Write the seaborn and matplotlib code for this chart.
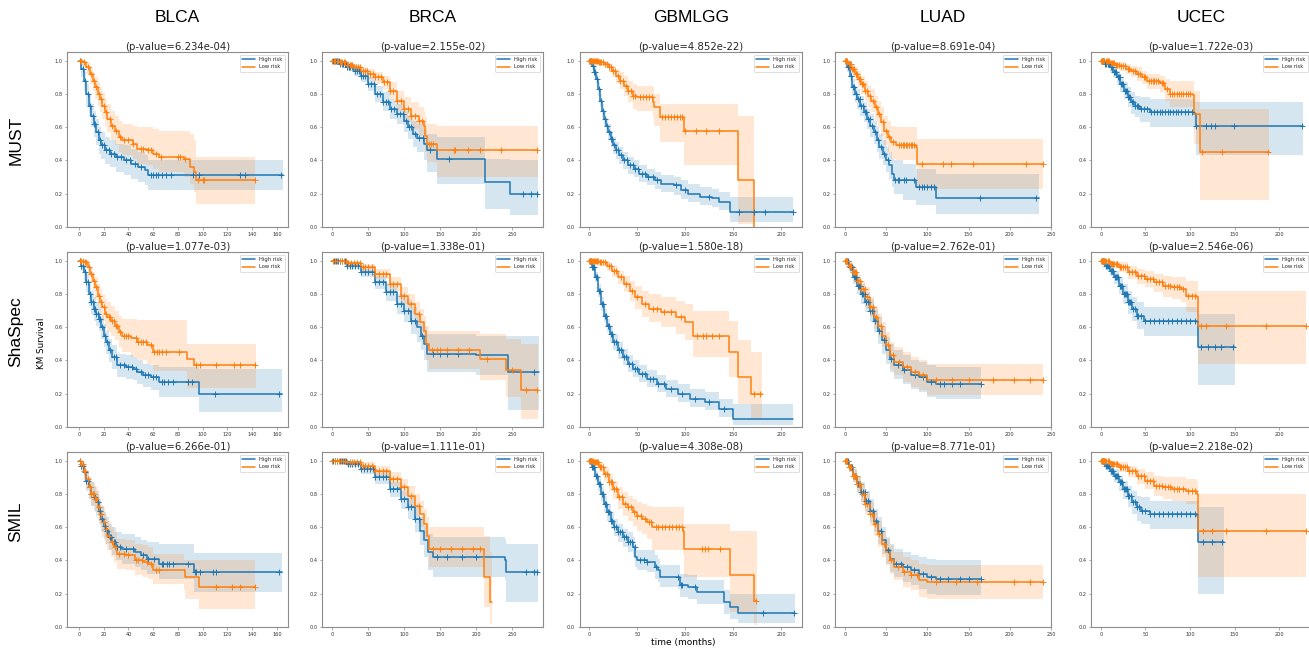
import numpy as np
import pandas as pd
import matplotlib
matplotlib.use("Agg")
import matplotlib.pyplot as plt
import seaborn as sns

sns.set_theme(style="white")
plt.rcParams["font.family"] = ["DejaVu Sans"]

CANCERS = ["BLCA", "BRCA", "GBMLGG", "LUAD", "UCEC"]
METHODS = ["MUST", "ShaSpec", "SMIL"]
PVALUES_MUST = ["6.234e-04", "2.155e-02", "4.852e-22", "8.691e-04", "1.722e-03"]
PVALUES_SHASPEC = ["1.077e-03", "1.338e-01", "1.580e-18", "2.762e-01", "2.546e-06"]
PVALUES_SMIL = ["6.266e-01", "1.111e-01", "4.308e-08", "8.771e-01", "2.218e-02"]
XTICKS = {"BLCA": [0, 20, 40, 60, 80, 100, 120, 140, 160],
          "BRCA": [0, 50, 100, 150, 200, 250],
          "GBMLGG": [0, 50, 100, 150, 200],
          "LUAD": [0, 50, 100, 150, 200, 250],
          "UCEC": [0, 50, 100, 150, 200]}
YTICKS = [0.0, 0.2, 0.4, 0.6, 0.8, 1.0]

# each row: (time, survival, ci_lower, ci_upper); *_CENS: censoring times
# ---------------- MUST ----------------
MUST_BLCA_HIGH = [(0,1.00,1.00,1.00),(2,0.95,0.90,0.98),(4,0.88,0.82,0.93),(6,0.80,0.73,0.86),
    (8,0.73,0.66,0.80),(10,0.67,0.60,0.74),(12,0.62,0.54,0.70),(14,0.57,0.49,0.65),(16,0.52,0.44,0.60),
    (18,0.49,0.41,0.57),(21,0.46,0.38,0.54),(25,0.44,0.36,0.52),(30,0.42,0.33,0.50),(36,0.40,0.31,0.49),
    (42,0.38,0.29,0.47),(48,0.36,0.27,0.45),(53,0.34,0.25,0.43),(56,0.31,0.22,0.40),(165,0.31,0.22,0.40)]
MUST_BLCA_HIGH_CENS = [1,3,5,7,9,11,12,13,15,17,19,20,22,24,26,28,31,34,38,41,45,50,58,60,62,64,67,70,74,92,97,130,134,163]
MUST_BLCA_LOW = [(0,1.00,1.00,1.00),(3,0.99,0.96,1.00),(6,0.96,0.92,0.99),(9,0.92,0.86,0.96),
    (11,0.88,0.82,0.93),(13,0.84,0.77,0.90),(15,0.80,0.73,0.87),(17,0.77,0.69,0.84),(19,0.73,0.65,0.81),
    (21,0.69,0.61,0.77),(23,0.65,0.57,0.74),(26,0.61,0.52,0.70),(29,0.58,0.49,0.67),(32,0.54,0.45,0.64),
    (35,0.52,0.43,0.62),(44,0.50,0.41,0.61),(47,0.47,0.38,0.60),(55,0.46,0.37,0.60),(60,0.44,0.35,0.59),
    (65,0.42,0.33,0.58),(85,0.41,0.30,0.58),(90,0.36,0.26,0.56),(93,0.33,0.21,0.52),(95,0.28,0.14,0.42),
    (142,0.28,0.14,0.42)]
MUST_BLCA_LOW_CENS = [1,2,4,7,10,12,14,16,18,20,22,25,27,30,33,36,40,44,50,52,56,58,62,66,80,82,86,96,100,101,142]

MUST_BRCA_HIGH = [(0,1.00,1.00,1.00),(10,0.98,0.97,0.99),(20,0.96,0.94,0.98),(30,0.935,0.91,0.96),
    (40,0.91,0.87,0.94),(50,0.86,0.82,0.90),(60,0.80,0.75,0.85),(70,0.75,0.70,0.81),(80,0.71,0.65,0.77),
    (90,0.68,0.62,0.74),(100,0.64,0.57,0.70),(105,0.60,0.53,0.67),(112,0.56,0.48,0.64),(118,0.535,0.45,0.62),
    (128,0.50,0.40,0.59),(131,0.46,0.33,0.56),(145,0.41,0.26,0.54),(213,0.27,0.11,0.41),(247,0.20,0.07,0.40),
    (286,0.20,0.07,0.40)]
MUST_BRCA_HIGH_CENS = [1,3,5,7,9,11,13,15,17,19,21,23,25,28,31,34,37,40,43,46,50,54,58,62,66,70,74,78,82,86,
    90,94,98,102,106,110,115,120,126,136,162,265,277,284]
MUST_BRCA_LOW = [(0,1.00,1.00,1.00),(10,0.99,0.98,1.00),(20,0.975,0.96,0.99),(30,0.96,0.94,0.98),
    (40,0.94,0.92,0.96),(50,0.92,0.89,0.95),(60,0.90,0.86,0.93),(70,0.87,0.83,0.91),(80,0.82,0.77,0.87),
    (90,0.76,0.70,0.82),(100,0.71,0.64,0.78),(110,0.67,0.59,0.75),(120,0.64,0.55,0.72),(127,0.61,0.52,0.70),
    (129,0.55,0.45,0.66),(131,0.50,0.39,0.62),(146,0.46,0.30,0.61),(286,0.46,0.30,0.61)]
MUST_BRCA_LOW_CENS = [0,2,4,6,8,10,12,14,16,18,20,22,24,26,28,30,33,36,39,42,45,48,52,56,60,64,68,72,76,80,
    85,90,95,100,105,110,115,120,125,134,137,140,169,171,188,206,235,284]

MUST_GBMLGG_HIGH = [(0,1.00,1.00,1.00),(3,0.97,0.95,0.99),(5,0.93,0.90,0.96),(7,0.89,0.86,0.92),
    (9,0.83,0.79,0.87),(11,0.76,0.72,0.80),(13,0.70,0.66,0.74),(15,0.65,0.61,0.69),(17,0.61,0.57,0.65),
    (19,0.57,0.53,0.62),(22,0.53,0.48,0.58),(25,0.49,0.44,0.54),(28,0.46,0.41,0.51),(31,0.43,0.38,0.48),
    (35,0.40,0.35,0.45),(40,0.37,0.32,0.42),(46,0.35,0.30,0.40),(52,0.32,0.27,0.37),(60,0.30,0.25,0.35),
    (68,0.28,0.23,0.33),(75,0.26,0.21,0.31),(88,0.25,0.19,0.30),(95,0.22,0.17,0.28),(103,0.20,0.15,0.26),
    (115,0.18,0.13,0.24),(128,0.175,0.12,0.23),(135,0.15,0.10,0.21),(146,0.09,0.03,0.18),(212,0.09,0.03,0.18)]
MUST_GBMLGG_HIGH_CENS = [1,2,4,5,6,8,10,12,14,16,18,20,22,24,26,28,30,33,36,39,42,45,48,51,55,58,61,66,70,
    90,100,125,156,172,183,212]
MUST_GBMLGG_LOW = [(0,1.00,1.00,1.00),(10,0.99,0.97,1.00),(15,0.98,0.96,0.99),(20,0.96,0.93,0.98),
    (24,0.94,0.90,0.97),(28,0.91,0.86,0.95),(32,0.88,0.83,0.93),(36,0.85,0.79,0.91),(40,0.82,0.75,0.88),
    (45,0.79,0.71,0.86),(50,0.78,0.70,0.85),(66,0.75,0.66,0.84),(67,0.72,0.61,0.80),(74,0.66,0.51,0.74),
    (98,0.66,0.51,0.74),(99,0.575,0.37,0.74),(154,0.575,0.37,0.74),(155,0.285,0.02,0.67),(170,0.285,0.02,0.67),
    (171,0.0,0.0,0.0)]
MUST_GBMLGG_LOW_CENS = [0,1,2,3,4,5,6,7,8,9,10,11,12,14,16,18,20,22,25,27,30,32,35,38,40,43,45,48,53,56,59,
    62,65,76,79,82,85,88,91,94,97,100,111,121,135]

MUST_LUAD_HIGH = [(0,1.00,1.00,1.00),(3,0.96,0.93,0.98),(6,0.91,0.87,0.95),(9,0.84,0.79,0.89),
    (12,0.80,0.75,0.85),(15,0.77,0.71,0.83),(19,0.73,0.67,0.79),(23,0.69,0.63,0.75),(27,0.65,0.59,0.71),
    (31,0.61,0.54,0.68),(35,0.57,0.50,0.64),(39,0.52,0.45,0.60),(42,0.48,0.41,0.56),(46,0.44,0.37,0.52),
    (50,0.40,0.33,0.48),(54,0.37,0.29,0.45),(57,0.32,0.24,0.41),(60,0.285,0.20,0.40),(70,0.285,0.16,0.38),
    (86,0.24,0.13,0.35),(110,0.175,0.076,0.32),(235,0.175,0.076,0.32)]
MUST_LUAD_HIGH_CENS = [1,2,4,5,7,8,10,11,13,14,16,18,20,22,24,26,28,30,33,36,40,44,48,52,61,64,66,72,74,84,
    90,93,96,100,104,108,164,232]
MUST_LUAD_LOW = [(0,1.00,1.00,1.00),(4,0.98,0.96,1.00),(8,0.95,0.92,0.98),(12,0.92,0.88,0.96),
    (16,0.89,0.84,0.94),(20,0.86,0.80,0.91),(24,0.82,0.76,0.88),(28,0.79,0.72,0.85),(32,0.76,0.69,0.83),
    (36,0.72,0.64,0.79),(40,0.68,0.60,0.76),(44,0.63,0.55,0.72),(48,0.58,0.49,0.67),(52,0.54,0.45,0.64),
    (56,0.51,0.41,0.61),(62,0.49,0.40,0.60),(86,0.48,0.36,0.60),(87,0.38,0.23,0.53),(240,0.38,0.23,0.53)]
MUST_LUAD_LOW_CENS = [0,1,2,3,5,6,7,9,10,11,13,14,15,17,18,19,21,22,25,27,30,34,38,42,46,50,54,58,66,68,70,
    72,74,76,78,80,82,84,93,119,129,155,220,240]

MUST_UCEC_HIGH = [(0,1.00,1.00,1.00),(5,0.98,0.96,0.99),(10,0.96,0.93,0.98),(14,0.93,0.90,0.96),
    (18,0.90,0.86,0.94),(22,0.86,0.81,0.90),(26,0.82,0.77,0.87),(30,0.78,0.72,0.84),(34,0.75,0.68,0.81),
    (38,0.73,0.66,0.79),(44,0.71,0.63,0.78),(55,0.69,0.60,0.77),(104,0.68,0.59,0.76),(107,0.61,0.43,0.75),
    (227,0.61,0.43,0.75)]
MUST_UCEC_HIGH_CENS = [1,2,3,4,5,6,8,9,11,12,13,15,16,17,19,20,21,23,24,25,27,28,29,31,32,33,35,36,38,40,
    42,45,48,52,56,60,63,66,69,72,75,78,81,84,87,90,94,98,102,107,118,124,128,149,225]
MUST_UCEC_LOW = [(0,1.00,1.00,1.00),(5,0.995,0.98,1.00),(10,0.985,0.97,1.00),(16,0.975,0.95,0.99),
    (22,0.965,0.94,0.99),(28,0.95,0.92,0.98),(34,0.935,0.90,0.97),(40,0.92,0.88,0.96),(46,0.90,0.86,0.94),
    (52,0.875,0.83,0.92),(66,0.865,0.81,0.91),(72,0.83,0.76,0.89),(77,0.80,0.72,0.88),(103,0.795,0.71,0.88),
    (104,0.68,0.50,0.82),(110,0.68,0.50,0.82),(111,0.45,0.16,0.71),(188,0.45,0.16,0.71)]
MUST_UCEC_LOW_CENS = [0,1,2,3,4,6,7,8,9,11,12,14,15,17,18,20,23,25,27,30,32,36,38,42,44,48,50,54,56,58,60,
    62,64,68,70,74,78,80,82,85,88,90,92,95,98,100,113,136,187]

# ---------------- ShaSpec ----------------
SHASPEC_BLCA_HIGH = [(0,1.00,1.00,1.00),(2,0.97,0.94,0.99),(4,0.93,0.88,0.97),(6,0.87,0.81,0.92),
    (8,0.80,0.73,0.86),(10,0.75,0.68,0.82),(12,0.71,0.64,0.78),(14,0.68,0.61,0.75),(16,0.65,0.58,0.72),
    (18,0.60,0.53,0.67),(20,0.55,0.48,0.62),(22,0.51,0.44,0.58),(24,0.46,0.39,0.53),(27,0.42,0.35,0.49),
    (31,0.37,0.30,0.44),(38,0.36,0.29,0.43),(44,0.35,0.28,0.42),(47,0.33,0.26,0.40),(52,0.31,0.24,0.38),
    (58,0.30,0.22,0.37),(65,0.27,0.18,0.36),(96,0.27,0.18,0.36),(97,0.20,0.09,0.35),(164,0.20,0.09,0.35)]
SHASPEC_BLCA_HIGH_CENS = [1,2,3,5,6,7,9,10,11,12,13,14,15,16,17,19,21,23,25,28,30,33,36,40,43,46,50,53,56,
    60,62,67,69,72,76,88,91,110,162]
SHASPEC_BLCA_LOW = [(0,1.00,1.00,1.00),(4,0.99,0.97,1.00),(7,0.96,0.92,0.99),(9,0.92,0.87,0.96),
    (11,0.88,0.82,0.93),(13,0.84,0.77,0.90),(15,0.79,0.72,0.86),(17,0.75,0.68,0.83),(19,0.72,0.64,0.80),
    (21,0.68,0.60,0.77),(23,0.66,0.57,0.75),(26,0.64,0.55,0.73),(29,0.61,0.52,0.70),(32,0.57,0.48,0.67),
    (35,0.545,0.45,0.65),(42,0.535,0.42,0.65),(47,0.51,0.40,0.645),(55,0.49,0.38,0.645),(60,0.45,0.334,0.645),
    (86,0.45,0.334,0.645),(87,0.41,0.234,0.50),(93,0.37,0.234,0.50),(143,0.37,0.234,0.50)]
SHASPEC_BLCA_LOW_CENS = [1,2,3,5,6,8,10,12,14,16,18,20,22,24,25,27,28,30,31,33,36,38,40,46,48,50,52,54,58,
    61,63,65,67,70,81,95,98,111,125,130,142]

SHASPEC_BRCA_HIGH = [(0,1.00,1.00,1.00),(20,0.97,0.95,0.99),(40,0.93,0.90,0.96),(60,0.87,0.83,0.91),
    (75,0.81,0.76,0.86),(90,0.74,0.68,0.80),(100,0.70,0.63,0.77),(110,0.64,0.56,0.72),(118,0.60,0.51,0.68),
    (123,0.55,0.46,0.64),(127,0.50,0.40,0.60),(132,0.44,0.33,0.56),(200,0.43,0.31,0.55),(244,0.33,0.10,0.55),
    (288,0.33,0.10,0.55)]
SHASPEC_BRCA_HIGH_CENS = [2,5,8,11,14,17,20,24,28,32,36,40,45,50,55,60,65,70,75,80,85,90,95,100,105,110,
    115,125,140,150,160,175,280]
SHASPEC_BRCA_LOW = [(0,1.00,1.00,1.00),(20,0.985,0.97,1.00),(40,0.96,0.94,0.98),(60,0.92,0.89,0.95),
    (80,0.86,0.82,0.90),(95,0.79,0.74,0.84),(105,0.74,0.68,0.80),(115,0.68,0.61,0.75),(122,0.63,0.55,0.71),
    (127,0.58,0.49,0.67),(130,0.50,0.40,0.61),(134,0.46,0.35,0.58),(205,0.46,0.35,0.58),(206,0.41,0.28,0.56),
    (240,0.41,0.28,0.56),(241,0.34,0.18,0.53),(262,0.34,0.18,0.53),(263,0.22,0.05,0.50),(286,0.22,0.05,0.50)]
SHASPEC_BRCA_LOW_CENS = [1,4,7,10,13,16,19,22,26,30,34,38,42,46,50,55,60,65,70,75,80,85,90,95,100,110,
    120,138,145,150,160,175,190,215,250,270,284]

SHASPEC_GBMLGG_HIGH = [(0,1.00,1.00,1.00),(3,0.96,0.94,0.98),(6,0.90,0.87,0.93),(9,0.82,0.78,0.86),
    (12,0.74,0.70,0.78),(15,0.67,0.63,0.71),(18,0.61,0.57,0.65),(21,0.56,0.51,0.61),(25,0.51,0.46,0.56),
    (30,0.46,0.41,0.51),(35,0.42,0.37,0.47),(40,0.38,0.33,0.43),(45,0.35,0.30,0.40),(52,0.32,0.27,0.37),
    (60,0.29,0.24,0.34),(70,0.26,0.21,0.31),(80,0.23,0.18,0.28),(92,0.20,0.15,0.26),(105,0.17,0.12,0.23),
    (120,0.15,0.10,0.21),(135,0.11,0.06,0.17),(150,0.05,0.01,0.14),(212,0.05,0.01,0.14)]
SHASPEC_GBMLGG_HIGH_CENS = [1,2,3,4,5,7,8,10,11,13,14,16,17,19,20,22,24,26,28,31,33,36,38,41,44,47,50,
    55,58,63,66,72,78,85,96,110,125,140]
SHASPEC_GBMLGG_LOW = [(0,1.00,1.00,1.00),(10,0.99,0.97,1.00),(18,0.97,0.94,0.99),(24,0.94,0.90,0.97),
    (30,0.90,0.86,0.94),(36,0.86,0.81,0.91),(42,0.82,0.76,0.88),(48,0.78,0.71,0.85),(55,0.74,0.66,0.82),
    (62,0.71,0.63,0.80),(75,0.69,0.60,0.78),(90,0.66,0.56,0.76),(100,0.63,0.52,0.74),(108,0.55,0.42,0.70),
    (140,0.55,0.42,0.70),(145,0.45,0.30,0.64),(155,0.30,0.14,0.52),(165,0.30,0.14,0.52),(168,0.20,0.05,0.45),
    (180,0.20,0.05,0.45)]
SHASPEC_GBMLGG_LOW_CENS = [0,1,2,3,4,5,6,7,8,9,11,12,14,16,20,22,26,28,33,38,44,50,58,66,70,78,85,95,
    112,118,122,128,135,172,178]

SHASPEC_LUAD_HIGH = [(0,1.00,1.00,1.00),(5,0.96,0.93,0.98),(10,0.90,0.86,0.94),(15,0.85,0.80,0.90),
    (20,0.80,0.74,0.86),(25,0.75,0.69,0.81),(30,0.70,0.63,0.77),(35,0.64,0.57,0.71),(40,0.58,0.50,0.66),
    (45,0.52,0.44,0.60),(50,0.46,0.38,0.54),(55,0.41,0.33,0.50),(60,0.37,0.29,0.46),(70,0.34,0.26,0.43),
    (80,0.31,0.23,0.40),(90,0.30,0.21,0.39),(100,0.27,0.18,0.37),(110,0.26,0.17,0.36),(165,0.26,0.17,0.36)]
SHASPEC_LUAD_HIGH_CENS = [1,2,3,4,6,7,8,9,11,12,13,14,16,17,18,19,21,22,24,26,28,30,33,36,42,48,56,64,
    72,85,95,105,115,120,130,140,165]
SHASPEC_LUAD_LOW = [(0,1.00,1.00,1.00),(5,0.97,0.95,0.99),(10,0.93,0.90,0.96),(15,0.88,0.84,0.92),
    (20,0.83,0.78,0.88),(25,0.78,0.72,0.84),(30,0.72,0.66,0.78),(35,0.66,0.59,0.73),(40,0.61,0.54,0.68),
    (45,0.55,0.48,0.63),(50,0.49,0.41,0.57),(55,0.43,0.35,0.51),(60,0.39,0.31,0.48),(70,0.36,0.27,0.45),
    (80,0.33,0.24,0.42),(90,0.31,0.22,0.40),(100,0.28,0.19,0.38),(240,0.28,0.19,0.38)]
SHASPEC_LUAD_LOW_CENS = [0,1,2,3,5,6,7,8,10,11,12,13,15,16,18,20,22,24,27,30,34,38,44,52,58,66,75,85,
    95,110,130,150,180,205,225,240]

SHASPEC_UCEC_HIGH = [(0,1.00,1.00,1.00),(5,0.97,0.95,0.99),(10,0.94,0.91,0.97),(15,0.90,0.86,0.94),
    (20,0.85,0.80,0.90),(25,0.80,0.74,0.86),(30,0.75,0.68,0.82),(35,0.71,0.64,0.78),(40,0.67,0.59,0.75),
    (48,0.64,0.55,0.72),(108,0.63,0.54,0.72),(109,0.48,0.25,0.68),(150,0.48,0.25,0.68)]
SHASPEC_UCEC_HIGH_CENS = [1,2,3,4,6,7,8,9,11,12,13,14,16,17,18,19,21,22,23,24,26,27,28,29,31,32,33,34,
    36,38,40,42,45,50,55,60,65,70,75,80,85,90,95,100,105,112,120,128,135,148]
SHASPEC_UCEC_LOW = [(0,1.00,1.00,1.00),(10,0.98,0.96,1.00),(20,0.96,0.93,0.99),(30,0.93,0.89,0.97),
    (40,0.91,0.86,0.95),(50,0.89,0.84,0.94),(60,0.87,0.81,0.92),(70,0.85,0.78,0.91),(80,0.84,0.77,0.90),
    (90,0.83,0.75,0.90),(95,0.79,0.69,0.88),(108,0.78,0.68,0.88),(109,0.61,0.38,0.82),(230,0.61,0.38,0.82)]
SHASPEC_UCEC_LOW_CENS = [0,1,2,3,4,5,6,8,9,11,12,14,15,17,18,21,23,25,27,29,32,35,38,42,45,48,52,55,58,
    62,65,68,72,75,78,82,85,88,92,98,102,105,112,118,140,185,230]

# ---------------- SMIL ----------------
SMIL_BLCA_HIGH = [(0,1.00,1.00,1.00),(2,0.97,0.94,0.99),(4,0.93,0.88,0.97),(6,0.88,0.82,0.93),
    (8,0.84,0.77,0.90),(10,0.80,0.73,0.87),(12,0.78,0.70,0.85),(14,0.75,0.67,0.82),(16,0.70,0.62,0.77),
    (18,0.65,0.57,0.73),(20,0.61,0.53,0.69),(22,0.58,0.50,0.66),(24,0.54,0.46,0.62),(27,0.51,0.43,0.60),
    (30,0.48,0.40,0.57),(35,0.47,0.38,0.56),(45,0.45,0.36,0.54),(50,0.43,0.34,0.52),(55,0.41,0.32,0.51),
    (65,0.38,0.29,0.50),(92,0.38,0.29,0.50),(93,0.33,0.21,0.445),(164,0.33,0.21,0.445)]
SMIL_BLCA_HIGH_CENS = [1,2,3,5,6,7,9,10,11,12,13,15,17,19,21,23,25,26,28,29,31,33,38,44,52,56,61,67,68,
    71,73,76,88,94,95,98,108,111,162]
SMIL_BLCA_LOW = [(0,1.00,1.00,1.00),(2,0.98,0.95,1.00),(4,0.94,0.89,0.98),(6,0.89,0.83,0.94),
    (8,0.84,0.77,0.90),(10,0.80,0.73,0.87),(13,0.77,0.69,0.84),(15,0.72,0.64,0.80),(17,0.68,0.60,0.76),
    (19,0.63,0.54,0.72),(21,0.59,0.50,0.68),(23,0.55,0.46,0.64),(26,0.51,0.42,0.60),(28,0.48,0.39,0.57),
    (31,0.44,0.35,0.53),(38,0.43,0.34,0.52),(45,0.40,0.31,0.50),(52,0.39,0.30,0.49),(56,0.38,0.29,0.48),
    (60,0.345,0.26,0.44),(85,0.345,0.22,0.40),(86,0.30,0.17,0.40),(96,0.30,0.17,0.40),(97,0.24,0.11,0.40),
    (142,0.24,0.11,0.40)]
SMIL_BLCA_LOW_CENS = [1,2,3,4,5,7,9,10,11,12,13,14,16,18,20,22,24,27,29,32,36,40,46,48,51,55,58,62,65,
    111,124,130,142]

SMIL_BRCA_HIGH = [(0,1.00,1.00,1.00),(20,0.98,0.96,0.99),(40,0.95,0.92,0.97),(60,0.90,0.86,0.93),
    (80,0.83,0.78,0.87),(95,0.77,0.71,0.82),(105,0.72,0.65,0.78),(115,0.65,0.57,0.72),(122,0.58,0.49,0.66),
    (128,0.52,0.42,0.61),(133,0.45,0.34,0.56),(140,0.42,0.30,0.54),(240,0.40,0.28,0.53),(241,0.33,0.15,0.50),
    (286,0.33,0.15,0.50)]
SMIL_BRCA_HIGH_CENS = [1,4,7,10,13,16,19,22,25,28,32,36,40,44,48,52,56,60,65,70,75,80,85,90,95,100,105,
    110,115,120,145,160,180,200,270,280,285]
SMIL_BRCA_LOW = [(0,1.00,1.00,1.00),(20,0.99,0.98,1.00),(40,0.97,0.95,0.99),(60,0.94,0.91,0.97),
    (80,0.89,0.85,0.93),(95,0.84,0.79,0.89),(105,0.79,0.73,0.85),(115,0.73,0.66,0.80),(122,0.68,0.60,0.76),
    (127,0.62,0.53,0.71),(132,0.55,0.45,0.66),(135,0.47,0.36,0.60),(210,0.47,0.36,0.60),(211,0.30,0.12,0.55),
    (218,0.30,0.12,0.55),(219,0.15,0.02,0.45),(222,0.15,0.02,0.45)]
SMIL_BRCA_LOW_CENS = [0,3,6,9,12,15,18,21,24,27,30,34,38,42,46,50,55,60,65,70,75,80,85,90,95,100,110,
    120,140,150,165,180,195,205]

SMIL_GBMLGG_HIGH = [(0,1.00,1.00,1.00),(3,0.96,0.94,0.98),(6,0.91,0.88,0.94),(9,0.86,0.82,0.90),
    (12,0.80,0.76,0.84),(15,0.74,0.69,0.79),(18,0.69,0.64,0.74),(22,0.64,0.59,0.69),(26,0.60,0.55,0.65),
    (30,0.57,0.51,0.62),(35,0.54,0.48,0.59),(40,0.51,0.45,0.57),(45,0.48,0.42,0.54),(48,0.42,0.36,0.48),
    (50,0.40,0.34,0.46),(60,0.39,0.33,0.46),(68,0.36,0.29,0.43),(72,0.34,0.27,0.41),(74,0.30,0.24,0.37),
    (92,0.30,0.23,0.37),(94,0.25,0.18,0.32),(103,0.24,0.17,0.31),(112,0.21,0.14,0.28),(135,0.21,0.14,0.28),
    (140,0.15,0.08,0.22),(146,0.12,0.05,0.20),(155,0.085,0.024,0.20),(214,0.085,0.024,0.20)]
SMIL_GBMLGG_HIGH_CENS = [1,2,3,4,5,7,8,10,11,13,14,16,17,19,20,22,24,26,28,30,32,34,36,38,40,42,44,47,
    53,57,60,69,92,95,97,110,181,213]
SMIL_GBMLGG_LOW = [(0,1.00,1.00,1.00),(5,0.99,0.97,1.00),(10,0.96,0.93,0.99),(15,0.92,0.88,0.96),
    (20,0.87,0.82,0.92),(25,0.83,0.77,0.88),(30,0.78,0.71,0.84),(35,0.74,0.67,0.81),(40,0.72,0.64,0.79),
    (45,0.69,0.61,0.77),(50,0.67,0.58,0.75),(55,0.65,0.56,0.74),(60,0.63,0.53,0.73),(65,0.60,0.46,0.72),
    (98,0.58,0.44,0.72),(99,0.47,0.30,0.62),(145,0.47,0.30,0.62),(146,0.31,0.09,0.58),(170,0.31,0.09,0.58),
    (171,0.155,0.01,0.58),(175,0.155,0.01,0.58)]
SMIL_GBMLGG_LOW_CENS = [0,1,2,3,4,5,6,7,8,9,11,12,14,16,18,20,22,24,26,28,31,34,37,40,43,46,50,54,58,62,
    64,69,72,76,79,83,86,90,93,97,117,120,124,136,174]

SMIL_LUAD_HIGH = [(0,1.00,1.00,1.00),(5,0.96,0.93,0.98),(10,0.91,0.87,0.95),(15,0.86,0.81,0.91),
    (20,0.81,0.75,0.87),(25,0.76,0.70,0.82),(30,0.70,0.63,0.77),(35,0.64,0.57,0.71),(40,0.58,0.50,0.66),
    (45,0.52,0.44,0.60),(50,0.46,0.38,0.54),(55,0.41,0.33,0.50),(60,0.38,0.30,0.47),(70,0.36,0.27,0.45),
    (80,0.34,0.25,0.43),(90,0.32,0.23,0.42),(100,0.30,0.20,0.41),(110,0.29,0.19,0.40),(165,0.29,0.19,0.40)]
SMIL_LUAD_HIGH_CENS = [1,2,3,4,6,7,8,9,11,12,13,15,16,17,19,20,22,24,26,28,31,34,38,44,52,62,68,76,84,
    95,105,115,125,140,150,165]
SMIL_LUAD_LOW = [(0,1.00,1.00,1.00),(5,0.96,0.93,0.98),(10,0.91,0.87,0.95),(15,0.86,0.81,0.91),
    (20,0.80,0.74,0.86),(25,0.74,0.68,0.80),(30,0.68,0.61,0.75),(35,0.62,0.55,0.69),(40,0.56,0.48,0.64),
    (45,0.50,0.42,0.58),(50,0.45,0.37,0.53),(55,0.40,0.32,0.49),(60,0.36,0.28,0.45),(70,0.33,0.24,0.42),
    (80,0.31,0.22,0.40),(90,0.28,0.18,0.38),(100,0.27,0.17,0.37),(240,0.27,0.17,0.37)]
SMIL_LUAD_LOW_CENS = [0,1,2,3,5,6,7,8,10,11,12,14,15,17,18,21,23,25,27,30,33,36,42,48,56,64,72,80,88,
    110,135,160,205,225,240]

SMIL_UCEC_HIGH = [(0,1.00,1.00,1.00),(5,0.97,0.95,0.99),(10,0.94,0.91,0.97),(15,0.91,0.87,0.95),
    (20,0.87,0.82,0.91),(25,0.83,0.77,0.88),(30,0.79,0.72,0.85),(35,0.75,0.68,0.82),(40,0.72,0.64,0.79),
    (45,0.70,0.62,0.78),(55,0.68,0.59,0.76),(108,0.67,0.58,0.76),(109,0.51,0.20,0.72),(138,0.51,0.20,0.72)]
SMIL_UCEC_HIGH_CENS = [1,2,3,4,6,7,8,9,11,12,13,14,16,17,18,19,21,22,23,24,26,27,28,29,31,32,34,36,38,
    40,43,46,50,55,60,65,70,75,80,85,90,95,100,105,115,125,136]
SMIL_UCEC_LOW = [(0,1.00,1.00,1.00),(10,0.98,0.96,1.00),(20,0.96,0.93,0.99),(30,0.94,0.90,0.97),
    (40,0.91,0.86,0.95),(50,0.88,0.83,0.93),(60,0.85,0.79,0.91),(70,0.84,0.77,0.90),(80,0.83,0.76,0.90),
    (95,0.82,0.74,0.89),(108,0.80,0.71,0.88),(109,0.58,0.30,0.80),(230,0.58,0.30,0.80)]
SMIL_UCEC_LOW_CENS = [0,1,2,3,4,5,6,8,9,11,12,14,15,17,18,21,23,25,27,29,32,35,38,42,45,48,52,55,58,
    62,65,68,72,75,78,82,85,88,92,98,102,106,115,125,140,185,230]

# ---------------- layout (pixels of the 1309x652 canvas) ----------------
W, H = 1309, 652
COL_X = [(67, 288), (322, 543), (579.5, 802), (835, 1051), (1091, 1311)]
ROW_Y = [(52, 227), (252, 427), (452, 627)]
XLIMS = {"BLCA": (-9.7, 169), "BRCA": (-14.4, 293), "GBMLGG": (-10.3, 221.5),
         "LUAD": (-11.9, 250), "UCEC": (-11, 235.5)}
PVALUES = {"MUST": PVALUES_MUST, "ShaSpec": PVALUES_SHASPEC, "SMIL": PVALUES_SMIL}
C_HIGH = "#1f77b4"
C_LOW = "#ff7f0e"
SPINE = "#8c8c8c"

fig = plt.figure(figsize=(W / 100, H / 100), dpi=100)


def draw_curve(ax, rows, cens, color, label):
    df = pd.DataFrame(rows, columns=["t", "s", "lo", "hi"])
    ax.fill_between(df["t"], df["lo"], df["hi"], step="post", color=color, alpha=0.18, lw=0)
    sns.lineplot(data=df, x="t", y="s", drawstyle="steps-post", color=color, lw=1.1,
                 estimator=None, sort=False, ax=ax, label=label, legend=False)
    handle = ax.get_lines()[-1]
    tc = np.asarray(cens, dtype=float)
    idx = np.searchsorted(df["t"].values, tc, side="right") - 1
    cdf = pd.DataFrame({"t": tc, "s": df["s"].values[idx]})
    sns.scatterplot(data=cdf, x="t", y="s", marker="+", color=color, s=24, linewidth=0.7,
                    ax=ax, legend=False, zorder=3)
    return handle


for r, method in enumerate(METHODS):
    for c, cancer in enumerate(CANCERS):
        x0, x1 = COL_X[c]
        y0, y1 = ROW_Y[r]
        ax = fig.add_axes([x0 / W, 1 - y1 / H, (x1 - x0) / W, (y1 - y0) / H])
        key = method.upper() + "_" + cancer
        hi_rows = globals()[key + "_HIGH"]
        hi_c = globals()[key + "_HIGH_CENS"]
        lo_rows = globals()[key + "_LOW"]
        lo_c = globals()[key + "_LOW_CENS"]
        h1 = draw_curve(ax, hi_rows, hi_c, C_HIGH, "High risk")
        h2 = draw_curve(ax, lo_rows, lo_c, C_LOW, "Low risk")
        ax.set_xlim(*XLIMS[cancer])
        ax.set_ylim(0, 1.052)
        ax.set_xticks(XTICKS[cancer])
        ax.set_yticks(YTICKS)
        ax.set_xticklabels([str(v) for v in XTICKS[cancer]])
        ax.set_yticklabels(["%.1f" % v for v in YTICKS])
        ax.set_xlabel("")
        ax.set_ylabel("")
        ax.tick_params(axis="both", labelsize=3.6, length=1.8, width=0.5, pad=1.5,
                       colors="#333333", color=SPINE, bottom=True, left=True)
        for sp in ax.spines.values():
            sp.set_color(SPINE)
            sp.set_linewidth(0.8)
        ax.set_title("(p-value=%s)" % PVALUES[method][c], fontsize=7.3, pad=1.5)
        leg = ax.legend(handles=[h1, h2], labels=["High risk", "Low risk"], loc="upper right",
                        fontsize=3.8, frameon=True, fancybox=True, framealpha=0.9,
                        edgecolor="#cccccc", borderpad=0.5, handlelength=2.4,
                        labelspacing=0.4, borderaxespad=0.5)
        leg.get_frame().set_linewidth(0.5)

# column headers
for c, cancer in enumerate(CANCERS):
    cx = (COL_X[c][0] + COL_X[c][1]) / 2
    fig.text(cx / W, 1 - 17 / H, cancer, ha="center", va="center", fontsize=12.5,
             family="Liberation Sans", color="black")

# row labels
for name, cy in zip(METHODS, [140, 332, 522]):
    fig.text(16 / W, 1 - cy / H, name, ha="center", va="center", rotation=90,
             fontsize=12.5, family="Liberation Sans", color="black")

fig.text(41.5 / W, 1 - 343 / H, "KM Survival", ha="center", va="center", rotation=90,
         fontsize=6.3, color="black")
fig.text(683 / W, 1 - 643 / H, "time (months)", ha="center", va="center",
         fontsize=6.5, color="black")

fig.savefig("out.png", dpi=100, facecolor="white")
